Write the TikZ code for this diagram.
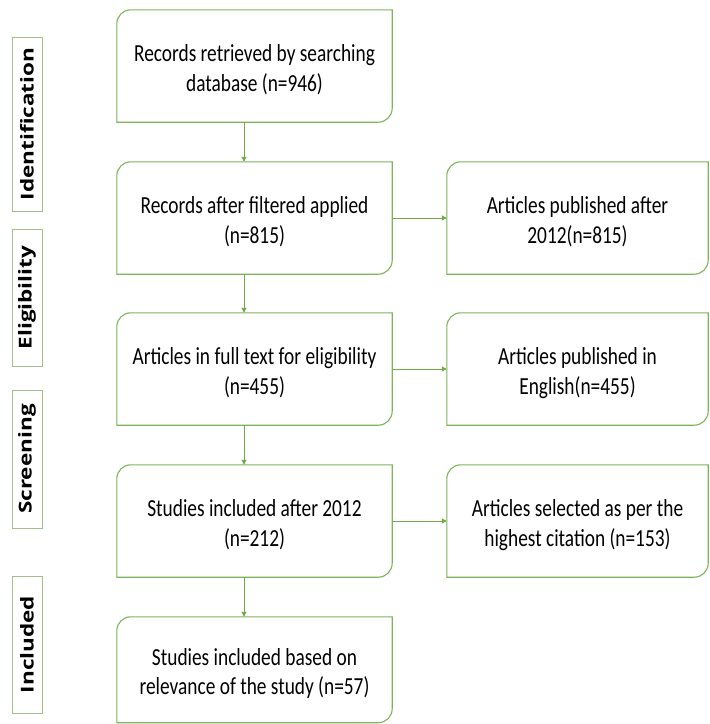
\documentclass[tikz,border=0pt]{standalone}
\usepackage{fontspec}
\setmainfont{Carlito}[FakeStretch=0.79]
\newfontfamily\labfont{Open Sans}
\usetikzlibrary{arrows.meta}
\definecolor{boxgreen}{HTML}{7DB35A}
\definecolor{labgreen}{HTML}{A3BE8A}
\definecolor{arrgreen}{HTML}{70AD47}
\tikzset{
  flowbox/.style={minimum width=275pt, minimum height=112pt, inner sep=0pt,
    font=\fontsize{24.5}{29.5}\selectfont, text=black},
  sidebox/.style={flowbox, minimum width=261pt},
  stagebox/.style={draw=labgreen, line width=1pt, minimum height=30pt, inner sep=0pt, rotate=90,
    font=\labfont\bfseries\fontsize{22.5}{22.5}\selectfont, text=black},
  conn/.style={draw=arrgreen, line width=1pt, -{Triangle[length=5pt,width=5pt]}},
  outline/.style={draw=boxgreen, line width=1.1pt}
}
\newcommand\boxtext[1]{\raisebox{-4.5pt}[\height][\depth]{\begin{tabular}{@{}c@{}}#1\end{tabular}}}
\newcommand\diagoutline[1]{%
  \draw[outline] (#1.north east) -- ([yshift=14pt]#1.south east)
    arc[start angle=0,end angle=-90,radius=14pt] -- (#1.south west)
    -- ([yshift=-14pt]#1.north west)
    arc[start angle=180,end angle=90,radius=14pt] -- cycle;}
\begin{document}
\begin{tikzpicture}[x=1pt,y=1pt]
\useasboundingbox[fill=white] (0,0) rectangle (710,-724);
% stage labels
\node[stagebox, minimum width=174pt] (s1) at (27,-124) {\scalebox{1}[0.79]{Identification}};
\node[stagebox, minimum width=137pt] (s2) at (27,-297.5) {\scalebox{1}[0.79]{Eligibility}};
\node[stagebox, minimum width=138pt] (s3) at (27,-459) {\scalebox{1}[0.79]{Screening}};
\node[stagebox, minimum width=137pt] (s4) at (27,-644.5) {\scalebox{1}[0.79]{Included}};
% main column
\node[flowbox] (m1) at (254.5,-66) {\boxtext{Records retrieved by searching\\database (n=946)}};
\node[flowbox] (m2) at (254.5,-218) {\boxtext{Records after filtered applied\\(n=815)}};
\node[flowbox] (m3) at (254.5,-369) {\boxtext{Articles in full text for eligibility\\(n=455)}};
\node[flowbox] (m4) at (254.5,-521) {\boxtext{Studies included after 2012\\(n=212)}};
\node[flowbox, minimum height=105.5pt] (m5) at (254.5,-669.75) {\boxtext{Studies included based on\\relevance of the study (n=57)}};
% side column
\node[sidebox] (r1) at (577.5,-218) {\boxtext{Articles published after\\2012(n=815)}};
\node[sidebox] (r2) at (577.5,-369) {\boxtext{Articles published in\\English(n=455)}};
\node[sidebox] (r3) at (577.5,-521) {\boxtext{Articles selected as per the\\highest citation (n=153)}};
\foreach \b in {m1,m2,m3,m4,m5,r1,r2,r3}{\diagoutline{\b}}
% connectors
\foreach \a/\b in {m1/m2,m2/m3,m3/m4,m4/m5}{
  \draw[conn] ([xshift=-10.5pt]\a.south) -- ([xshift=-10.5pt]\b.north);}
\draw[conn] (m2.east) -- (r1.west);
\draw[conn] (m3.east) -- (r2.west);
\draw[conn] (m4.east) -- (r3.west);
\end{tikzpicture}
\end{document}
